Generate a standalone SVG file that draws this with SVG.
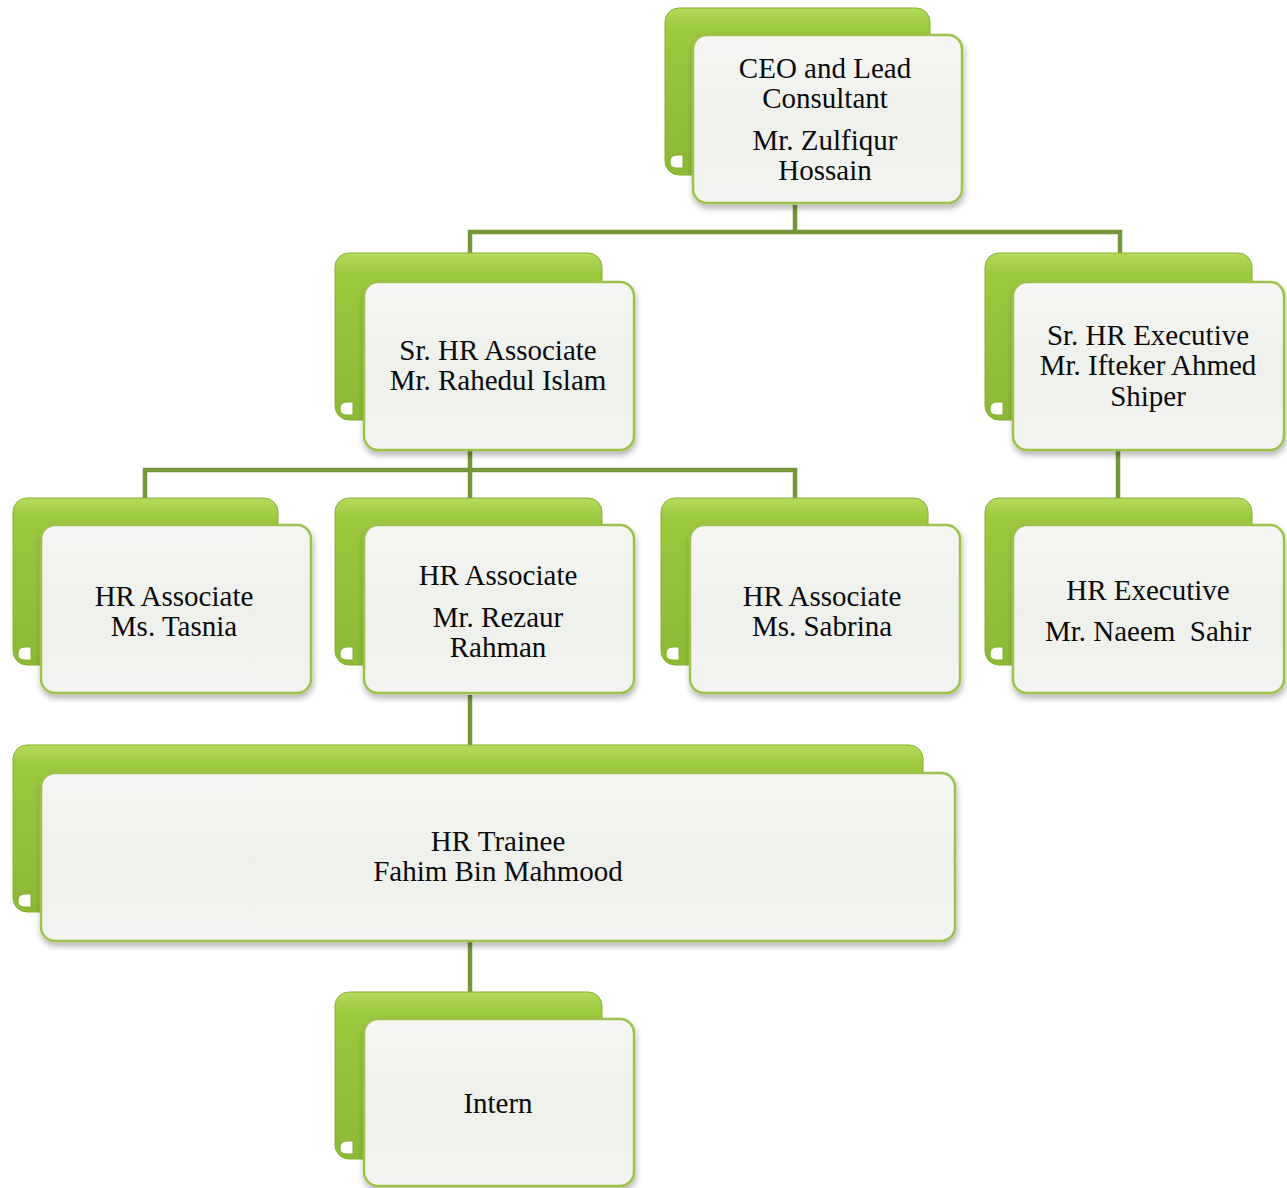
<svg xmlns="http://www.w3.org/2000/svg" width="1287" height="1188" viewBox="0 0 1287 1188">
<defs>
<linearGradient id="gBack" x1="0" y1="0" x2="0" y2="1">
<stop offset="0" stop-color="#b5dc5e"/>
<stop offset="0.12" stop-color="#9cc83f"/>
<stop offset="1" stop-color="#8cb936"/>
</linearGradient>
<linearGradient id="gFront" x1="0" y1="0" x2="0" y2="1">
<stop offset="0" stop-color="#f6f7f4"/>
<stop offset="0.5" stop-color="#eef0ec"/>
<stop offset="1" stop-color="#f3f4f1"/>
</linearGradient>
<filter id="sh" x="-10%" y="-10%" width="120%" height="130%">
<feGaussianBlur in="SourceAlpha" stdDeviation="3"/>
<feOffset dx="1" dy="4" result="b"/>
<feComponentTransfer><feFuncA type="linear" slope="0.3"/></feComponentTransfer>
<feMerge><feMergeNode/><feMergeNode in="SourceGraphic"/></feMerge>
</filter>
</defs>
<style>
.back{fill:url(#gBack);stroke:#86b030;stroke-width:1}
.front{fill:url(#gFront);stroke:#9cc24c;stroke-width:2.5;filter:url(#sh)}
.notch{fill:#ffffff;stroke:#86b030;stroke-width:1}
.t{font-family:"Liberation Serif","Times New Roman",serif;font-size:29px;fill:#0a0a0a;text-anchor:middle;white-space:pre}
.c{fill:none;stroke:#76963a;stroke-width:4.5}
</style>
<rect width="1287" height="1188" fill="#ffffff"/>
<g id="connectors">
<path class="c" d="M795 205V232M470 253V232H1120V253"/>
<path class="c" d="M470 450V470M145 498V470H795V498M470 470V498"/>
<path class="c" d="M1118 450V498"/>
<path class="c" d="M470 695V745"/>
<path class="c" d="M470 940V993"/>
</g>
<g id="ceo">
<rect class="back" x="665" y="8" width="265" height="167" rx="14"/>
<path class="notch" d="M670 162q0-7 7-7h6v13h-6q-7 0-7-6z"/>
<rect class="front" x="693" y="35" width="269" height="168" rx="14"/>
<text class="t" x="825" y="78">CEO and Lead</text>
<text class="t" x="825" y="108">Consultant</text>
<text class="t" x="825" y="150">Mr. Zulfiqur</text>
<text class="t" x="825" y="180">Hossain</text>
</g>
<g id="sr-hr-associate">
<rect class="back" x="335" y="253" width="267" height="167" rx="14"/>
<path class="notch" d="M340 409q0-7 7-7h6v13h-6q-7 0-7-6z"/>
<rect class="front" x="364" y="282" width="270" height="168" rx="14"/>
<text class="t" x="498" y="360">Sr. HR Associate</text>
<text class="t" x="498" y="390">Mr. Rahedul Islam</text>
</g>
<g id="sr-hr-executive">
<rect class="back" x="985" y="253" width="267" height="167" rx="14"/>
<path class="notch" d="M990 409q0-7 7-7h6v13h-6q-7 0-7-6z"/>
<rect class="front" x="1013" y="282" width="271" height="168" rx="14"/>
<text class="t" x="1148" y="345">Sr. HR Executive</text>
<text class="t" x="1148" y="375">Mr. Ifteker Ahmed</text>
<text class="t" x="1148" y="406">Shiper</text>
</g>
<g id="hr-associate-tasnia">
<rect class="back" x="13" y="498" width="265" height="167" rx="14"/>
<path class="notch" d="M18 654q0-7 7-7h6v13h-6q-7 0-7-6z"/>
<rect class="front" x="41" y="525" width="270" height="168" rx="14"/>
<text class="t" x="174" y="606">HR Associate</text>
<text class="t" x="174" y="636">Ms. Tasnia</text>
</g>
<g id="hr-associate-rezaur">
<rect class="back" x="335" y="498" width="267" height="167" rx="14"/>
<path class="notch" d="M340 654q0-7 7-7h6v13h-6q-7 0-7-6z"/>
<rect class="front" x="364" y="525" width="270" height="168" rx="14"/>
<text class="t" x="498" y="585">HR Associate</text>
<text class="t" x="498" y="627">Mr. Rezaur</text>
<text class="t" x="498" y="657">Rahman</text>
</g>
<g id="hr-associate-sabrina">
<rect class="back" x="661" y="498" width="267" height="167" rx="14"/>
<path class="notch" d="M666 654q0-7 7-7h6v13h-6q-7 0-7-6z"/>
<rect class="front" x="690" y="525" width="270" height="168" rx="14"/>
<text class="t" x="822" y="606">HR Associate</text>
<text class="t" x="822" y="636">Ms. Sabrina</text>
</g>
<g id="hr-executive">
<rect class="back" x="985" y="498" width="267" height="167" rx="14"/>
<path class="notch" d="M990 654q0-7 7-7h6v13h-6q-7 0-7-6z"/>
<rect class="front" x="1013" y="525" width="271" height="168" rx="14"/>
<text class="t" x="1148" y="600">HR Executive</text>
<text class="t" x="1148" y="641">Mr. Naeem  Sahir</text>
</g>
<g id="hr-trainee">
<rect class="back" x="13" y="745" width="910" height="167" rx="14"/>
<path class="notch" d="M18 901q0-7 7-7h6v13h-6q-7 0-7-6z"/>
<rect class="front" x="41" y="773" width="914" height="168" rx="14"/>
<text class="t" x="498" y="851">HR Trainee</text>
<text class="t" x="498" y="881">Fahim Bin Mahmood</text>
</g>
<g id="intern">
<rect class="back" x="335" y="992" width="267" height="167" rx="14"/>
<path class="notch" d="M340 1148q0-7 7-7h6v13h-6q-7 0-7-6z"/>
<rect class="front" x="364" y="1019" width="270" height="167" rx="14"/>
<text class="t" x="498" y="1113">Intern</text>
</g>
</svg>
